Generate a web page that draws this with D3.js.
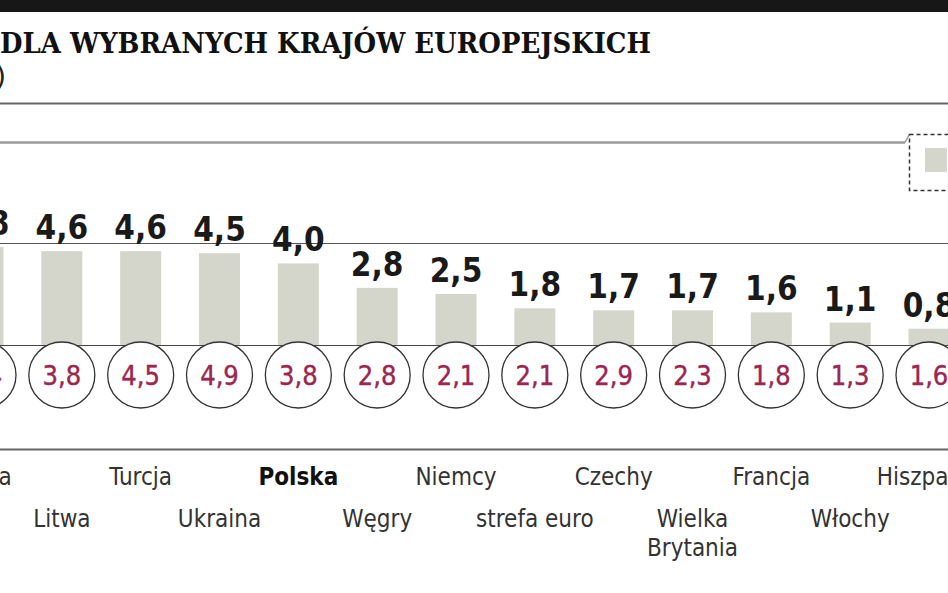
<!DOCTYPE html>
<html><head><meta charset="utf-8">
<script src="https://cdn.jsdelivr.net/npm/d3@7/dist/d3.min.js"></script>
<style>
html,body{margin:0;padding:0;background:#fff;overflow:hidden}
svg{display:block}
.cond{font-family:"DejaVu Sans Condensed","Liberation Sans Narrow","DejaVu Sans",sans-serif;font-stretch:condensed}
</style></head>
<body>
<script>
// ---- data ----
const countries = ["Rosja","Litwa","Turcja","Ukraina","Polska","Węgry","Niemcy","strefa euro","Czechy","Wielka Brytania","Francja","Włochy","Hiszpania"];
const barValues = [4.8,4.6,4.6,4.5,4.0,2.8,2.5,1.8,1.7,1.7,1.6,1.1,0.8];
const circleValues = [4.4,3.8,4.5,4.9,3.8,2.8,2.1,2.1,2.9,2.3,1.8,1.3,1.6];
const gridTicks = [5];
const titleText = "DLA WYBRANYCH KRAJÓW EUROPEJSKICH";
const subtitleText = "(w proc.)";

const W = 948, H = 593;
const svg = d3.select("body").append("svg").attr("width", W).attr("height", H);
const fmt = v => d3.format(".1f")(v).replace(".", ",");

// top band
svg.append("rect").attr("x",0).attr("y",0).attr("width",W).attr("height",12).attr("fill","#171717");

// title
svg.append("text").attr("x",0).attr("y",53)
  .attr("font-family","'DejaVu Serif',serif").attr("font-weight","bold").attr("font-size",27)
  .attr("textLength",651).attr("lengthAdjust","spacingAndGlyphs")
  .attr("fill","#111").text(titleText);
svg.append("text").attr("x",6).attr("y",85).attr("text-anchor","end")
  .attr("font-family","'DejaVu Sans',sans-serif").attr("font-size",27).attr("fill","#222").text(subtitleText);

// rules
svg.append("line").attr("x1",0).attr("x2",W).attr("y1",103.5).attr("y2",103.5).attr("stroke","#666").attr("stroke-width",2);
svg.append("line").attr("x1",0).attr("x2",905).attr("y1",142.5).attr("y2",142.5).attr("stroke","#9a9a9a").attr("stroke-width",2.5);
svg.append("path").attr("d","M905,142.5 L909,135").attr("stroke","#9a9a9a").attr("stroke-width",1.5).attr("fill","none");
svg.append("line").attr("x1",0).attr("x2",W).attr("y1",449.5).attr("y2",449.5).attr("stroke","#666").attr("stroke-width",2);

// legend
svg.append("rect").attr("x",909.5).attr("y",134.5).attr("width",60).attr("height",56)
  .attr("fill","none").attr("stroke","#333").attr("stroke-width",1.5).attr("stroke-dasharray","4,3");
svg.append("rect").attr("x",925).attr("y",148).attr("width",22).attr("height",24).attr("fill","#d5d6cb");

// scales
const x = d3.scalePoint().domain(countries).range([-17, 929]);
const y = d3.scaleLinear().domain([0,5]).range([345,243]);
const barW = 41;

// gridline
svg.selectAll(".grid").data(gridTicks).join("line")
  .attr("x1",0).attr("x2",W).attr("y1",d=>Math.round(y(d))+0.5).attr("y2",d=>Math.round(y(d))+0.5)
  .attr("stroke","#555").attr("stroke-width",1.2);

// bars
svg.selectAll(".bar").data(barValues).join("rect")
  .attr("x",(d,i)=>x(countries[i])-barW/2).attr("width",barW)
  .attr("y",d=>y(d)).attr("height",d=>y(0)-y(d)).attr("fill","#d5d6cb");

// bar labels
svg.selectAll(".blab").data(barValues).join("text").attr("class","cond")
  .attr("x",(d,i)=>x(countries[i])).attr("y",d=>y(d)-12)
  .attr("text-anchor","middle").attr("font-size",33).attr("font-weight","bold").attr("fill","#1a1a1a")
  .text(fmt);

// baseline
svg.append("line").attr("x1",0).attr("x2",W).attr("y1",345.5).attr("y2",345.5).attr("stroke","#444").attr("stroke-width",1.2);

// circles
svg.selectAll(".circ").data(circleValues).join("circle")
  .attr("cx",(d,i)=>x(countries[i])).attr("cy",375).attr("r",33)
  .attr("fill","#fff").attr("stroke","#333").attr("stroke-width",1.3);
svg.selectAll(".clab").data(circleValues).join("text").attr("class","cond")
  .attr("x",(d,i)=>x(countries[i])).attr("y",385)
  .attr("text-anchor","middle").attr("font-size",27).attr("fill","#9b2650")
  .attr("stroke","#9b2650").attr("stroke-width",0.4)
  .text(fmt);

// category labels (alternating rows)
const lab = svg.selectAll(".cat").data(countries).join("text").attr("class","cond")
  .attr("text-anchor","middle").attr("font-size",24)
  .attr("fill",d=>d==="Polska"?"#111":"#333")
  .attr("font-weight",d=>d==="Polska"?"bold":"normal")
  .attr("transform",(d,i)=>`translate(${x(d)},${i%2===0?485:527})`);
lab.each(function(d){
  const t = d3.select(this);
  const parts = d==="Wielka Brytania" ? ["Wielka","Brytania"] : [d];
  parts.forEach((p,k)=>t.append("tspan").attr("x",0).attr("dy",k===0?0:29).text(p));
});
</script>
</body></html>
